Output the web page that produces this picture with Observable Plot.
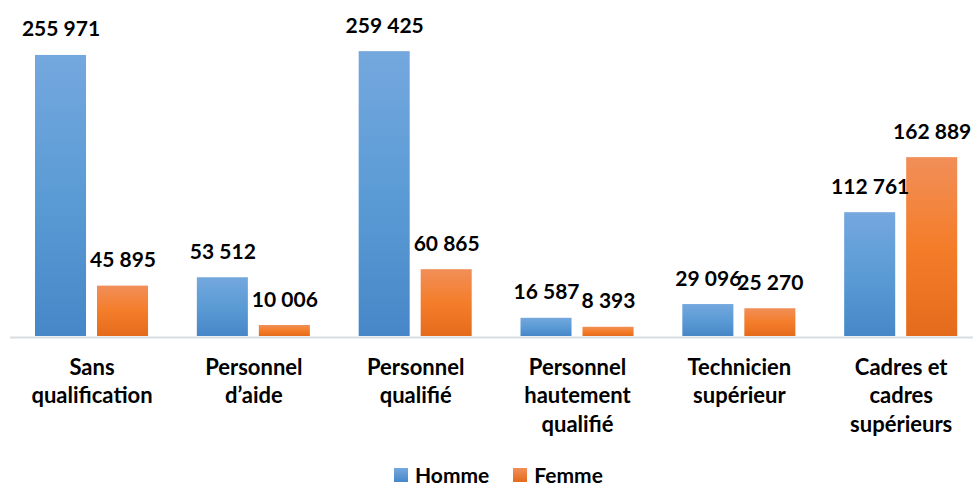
<!DOCTYPE html>
<html>
<head>
<meta charset="utf-8">
<script src="https://cdn.jsdelivr.net/npm/d3@7"></script>
<script src="https://cdn.jsdelivr.net/npm/@observablehq/plot@0.6"></script>
<style>
  body { margin: 0; background: #fff; font-family: Lato, sans-serif; }
  #legend { display: flex; align-items: center; height: 29px; margin-left: 394px; font-weight: bold; font-size: 21px; color: #000; }
  .sw { width: 14px; height: 14px; display: inline-block; margin-right: 7px; }
</style>
</head>
<body>
<div id="chart"></div>
<div id="legend"></div>
<script>
const categories = [
  "Sans\nqualification",
  "Personnel\nd’aide",
  "Personnel\nqualifié",
  "Personnel\nhautement\nqualifié",
  "Technicien\nsupérieur",
  "Cadres et\ncadres\nsupérieurs"
];
const homme = [255971, 53512, 259425, 16587, 29096, 112761];
const femme = [45895, 10006, 60865, 8393, 25270, 162889];
const seriesNames = ["Homme", "Femme"];

const fmt = v => d3.format(",")(v).replace(/,/g, " ");
const dataH = categories.map((c, i) => ({cat: c, value: homme[i]}));
const dataF = categories.map((c, i) => ({cat: c, value: femme[i]}));

const plot = Plot.plot({
  width: 973,
  height: 460,
  marginLeft: 10,
  marginRight: 0,
  marginTop: 0,
  marginBottom: 124,
  style: {fontFamily: "Lato, sans-serif", fontWeight: "bold", color: "#000", background: "#fff"},
  x: {type: "band", domain: categories, range: [10.6, 981.6], padding: 0, round: false, axis: null},
  y: {domain: [0, 300000], range: [336, 6.6], axis: null},
  marks: [
    Plot.barY(dataH, {x: "cat", y: "value", fill: "url(#gH)", insetLeft: 24.4, insetRight: 86.4}),
    Plot.barY(dataF, {x: "cat", y: "value", fill: "url(#gF)", insetLeft: 86.4, insetRight: 24.4}),
    Plot.ruleY([0], {stroke: "#d9dce1", strokeWidth: 2, dy: 1}),
    Plot.text(dataH, {x: "cat", y: "value", text: d => fmt(d.value), dx: -31, dy: -19, lineAnchor: "bottom", fontSize: 21, fontWeight: "bold", fill: "#000"}),
    Plot.text(dataF, {x: "cat", y: "value", text: d => fmt(d.value), dx: 31, dy: -19, lineAnchor: "bottom", fontSize: 21, fontWeight: "bold", fill: "#000"}),
    Plot.axisX({tickSize: 0, tickPadding: 18, fontSize: 22, fontWeight: "bold", lineHeight: 1.3, fill: "#000", label: null})
  ]
});

const ns = "http://www.w3.org/2000/svg";
const defs = document.createElementNS(ns, "defs");
function grad(id, stops) {
  const g = document.createElementNS(ns, "linearGradient");
  g.setAttribute("id", id);
  g.setAttribute("x1", "0"); g.setAttribute("y1", "0");
  g.setAttribute("x2", "0"); g.setAttribute("y2", "1");
  stops.forEach(([o, c]) => {
    const s = document.createElementNS(ns, "stop");
    s.setAttribute("offset", o); s.setAttribute("stop-color", c);
    g.appendChild(s);
  });
  defs.appendChild(g);
}
grad("gH", [["0%", "#74a8de"], ["50%", "#5b9bd5"], ["100%", "#4787c8"]]);
grad("gF", [["0%", "#f18f58"], ["50%", "#f47d2a"], ["100%", "#e46b1b"]]);
plot.insertBefore(defs, plot.firstChild);
document.getElementById("chart").appendChild(plot);

const legend = document.getElementById("legend");
const legendGrads = ["linear-gradient(#74a8de,#4787c8)", "linear-gradient(#f18f58,#e46b1b)"];
seriesNames.forEach((name, i) => {
  const item = document.createElement("span");
  item.style.display = "flex";
  item.style.alignItems = "center";
  item.style.marginRight = "24px";
  const sw = document.createElement("span");
  sw.className = "sw";
  sw.style.background = legendGrads[i];
  item.appendChild(sw);
  item.appendChild(document.createTextNode(name));
  legend.appendChild(item);
});
</script>
</body>
</html>
